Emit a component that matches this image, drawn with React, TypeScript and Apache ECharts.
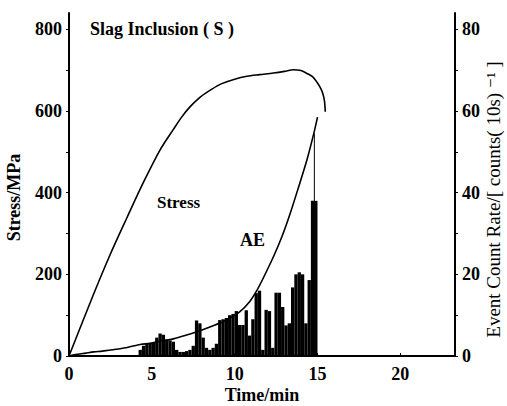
import React, { useEffect, useRef } from "react";
import * as echarts from "echarts";

// Stress curve (left axis, MPa)
const stressTime = [0, 1.47, 2.48, 3.49, 4.49, 5.5, 6.3, 6.8, 7.3, 7.92, 8.6, 9.22, 10.0, 10.74, 11.5, 12.34, 13.0, 13.55, 14.0, 14.36, 14.7, 14.96, 15.2, 15.32, 15.42, 15.47];
const stressValues = [0, 150, 248, 338, 425, 505, 555, 585, 610, 634, 653, 667, 678, 685, 689, 693, 697, 701, 699, 692, 684, 671, 655, 643, 625, 598];

// AE curve (drawn against left axis scale)
const aeTime = [0, 0.5, 1, 1.5, 2, 3, 3.5, 4.3, 4.9, 5.5, 6.3, 7.0, 7.9, 8.7, 9.5, 10.3, 10.9, 11.4, 11.74, 12.34, 12.85, 13.35, 13.86, 14.36, 14.8, 15.0];
const aeValues = [0, 4, 7, 10, 12, 17, 21, 28, 31, 36, 42, 50, 62, 74, 88, 108, 133, 165, 192, 243, 292, 349, 414, 480, 549, 585];

// Event count rate bars (right axis), bin start times (min), bin width 0.2 min
const barStart = [4.2, 4.4, 4.6, 4.8, 5.0, 5.2, 5.4, 5.6, 5.8, 6.0, 6.2, 6.4, 6.6, 6.8, 7.0, 7.2, 7.4, 7.6, 7.8, 8.0, 8.2, 8.4, 8.6, 8.8, 9.0, 9.2, 9.4, 9.6, 9.8, 10.0, 10.2, 10.4, 10.6, 10.8, 11.0, 11.2, 11.4, 11.6, 11.8, 12.0, 12.2, 12.4, 12.6, 12.8, 13.0, 13.2, 13.4, 13.6, 13.8, 14.0, 14.2, 14.4, 14.6, 14.8];
const barCounts = [1.5, 2.5, 3, 3.2, 3.2, 4.5, 5.5, 5.2, 4, 3.8, 3.5, 1.5, 1, 1, 1.2, 1.5, 2.5, 8.7, 8, 4.5, 2, 1.5, 2, 3, 8.8, 9, 9.3, 10, 10.3, 11, 7.6, 7.6, 11.2, 5, 9, 15.4, 16, 1.5, 11.3, 11, 2, 15.5, 15.5, 12, 7.5, 8, 16.8, 20, 20.5, 20, 8, 18.6, 38, 38];
const BIN = 0.2;
const spikeTime = [14.78];
const spikeCounts = [54.5];
const SPIKE_W = 0.06;

const xTicks = [0, 5, 10, 15, 20];
const leftLabels = [0, 200, 400, 600, 800];
const leftTicks = [0, 100, 200, 300, 400, 500, 600, 700, 800];
const rightLabels = [0, 20, 40, 60, 80];
const rightTicks = [0, 10, 20, 30, 40, 50, 60, 70, 80];

const FONT = "'Liberation Serif', 'DejaVu Serif', serif";

export default function App() {
  const ref = useRef<HTMLDivElement>(null);
  useEffect(() => {
    if (!ref.current) return;
    const chart = echarts.init(ref.current, null, { renderer: "svg" });
    const barRender = (width: number) => (params: any, api: any) => {
      const t = api.value(0);
      const v = api.value(1);
      const p1 = api.coord([t, v]);
      const p0 = api.coord([t + width, 0]);
      return {
        type: "rect",
        shape: { x: p1[0], y: p1[1], width: p0[0] - p1[0], height: p0[1] - p1[1] },
        style: { fill: "#000" },
      };
    };
    const axisText = { color: "#000", fontFamily: FONT, fontWeight: "bold" as const, fontSize: 18 };
    chart.setOption({
      animation: false,
      backgroundColor: "#fff",
      grid: { left: 69, right: 52, top: 13, bottom: 50, containLabel: false, outerBoundsMode: "none" },
      xAxis: {
        type: "value",
        min: 0,
        max: 23.3,
        interval: 5,
        name: "Time/min",
        nameLocation: "middle",
        nameGap: 30,
        nameMoveOverlap: false,
        nameTextStyle: { ...axisText, fontSize: 18 },
        axisLine: { lineStyle: { color: "#000", width: 2 } },
        axisTick: { inside: true, length: 3, customValues: xTicks, lineStyle: { color: "#000" } },
        axisLabel: { ...axisText, margin: 9, customValues: xTicks },
        splitLine: { show: false },
      },
      yAxis: [
        {
          type: "value",
          min: 0,
          max: 840,
          interval: 200,
          name: "Stress/MPa",
          nameLocation: "middle",
          nameRotate: 90,
          nameGap: 46,
          nameMoveOverlap: false,
          nameTextStyle: { ...axisText, fontSize: 18, padding: [0, 26, 0, 0] },
          axisLine: { show: true, lineStyle: { color: "#000", width: 2 } },
          axisTick: { show: true, length: 3, customValues: leftTicks, lineStyle: { color: "#000" } },
          axisLabel: { ...axisText, margin: 7, customValues: leftLabels },
          splitLine: { show: false },
        },
        {
          type: "value",
          min: 0,
          max: 84,
          interval: 20,
          position: "right",
          name: "Event Count Rate/[ counts( 10s) ⁻¹ ]",
          nameLocation: "middle",
          nameRotate: 90,
          nameGap: 29,
          nameMoveOverlap: false,
          nameTextStyle: { color: "#000", fontFamily: FONT, fontSize: 19, padding: [0, 30, 0, 0] },
          axisLine: { show: true, lineStyle: { color: "#000", width: 2 } },
          axisTick: { show: true, length: 3, customValues: rightTicks, lineStyle: { color: "#000" } },
          axisLabel: { ...axisText, margin: 7, customValues: rightLabels },
          splitLine: { show: false },
        },
      ],
      graphic: [
        { type: "text", left: 90, top: 20, style: { text: "Slag Inclusion ( S )", fill: "#000", font: `bold 18px ${FONT}` } },
        { type: "text", left: 157, top: 194, style: { text: "Stress", fill: "#000", font: `bold 17px ${FONT}` } },
        { type: "text", left: 240, top: 231, style: { text: "AE", fill: "#000", font: `bold 18px ${FONT}` } },
      ],
      series: [
        {
          name: "Event Count Rate",
          type: "custom",
          yAxisIndex: 1,
          renderItem: barRender(BIN),
          data: barStart.map((t, i) => [t, barCounts[i]]),
          z: 1,
        },
        {
          name: "Spike",
          type: "custom",
          yAxisIndex: 1,
          renderItem: barRender(SPIKE_W),
          data: spikeTime.map((t, i) => [t, spikeCounts[i]]),
          z: 1,
        },
        {
          name: "Stress",
          type: "line",
          yAxisIndex: 0,
          smooth: 0.3,
          showSymbol: false,
          lineStyle: { color: "#000", width: 1.6 },
          data: stressTime.map((t, i) => [t, stressValues[i]]),
          z: 3,
        },
        {
          name: "AE",
          type: "line",
          yAxisIndex: 0,
          smooth: 0.3,
          showSymbol: false,
          lineStyle: { color: "#000", width: 1.6 },
          data: aeTime.map((t, i) => [t, aeValues[i]]),
          z: 3,
        },
      ],
    });
    return () => chart.dispose();
  }, []);
  return <div ref={ref} style={{ width: 507, height: 406, position: "absolute", left: 0, top: 0 }} />;
}
